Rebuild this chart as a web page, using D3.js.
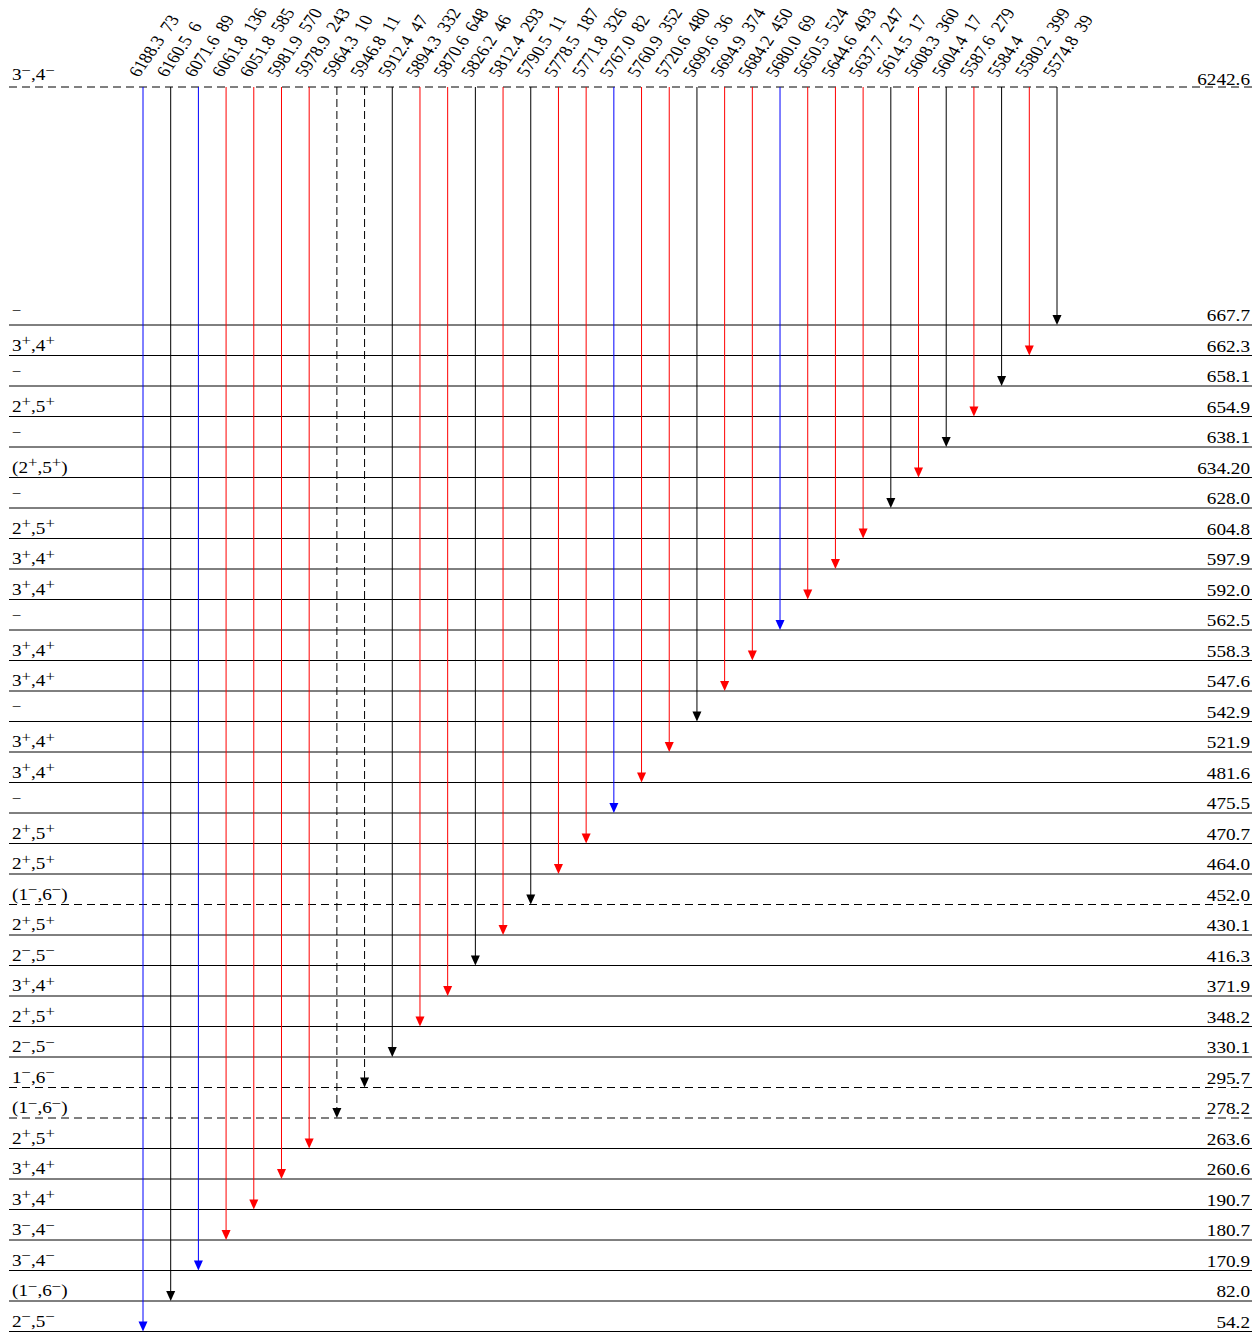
<!DOCTYPE html>
<html>
<head>
<meta charset="utf-8">
<script src="https://cdn.jsdelivr.net/npm/d3@7"></script>
<style>
  body { margin: 0; background: #fff; }
  text { font-family: "Liberation Serif", "DejaVu Serif", serif; font-size: 16px; fill: #000; }
  tspan.sup { font-size: 14px; }
</style>
</head>
<body>
<div id="chart"></div>
<script>
// level energies (keV), lowest list from top to bottom
const levelEnergies = ['667.7', '662.3', '658.1', '654.9', '638.1', '634.20', '628.0', '604.8', '597.9', '592.0',
  '562.5', '558.3', '547.6', '542.9', '521.9', '481.6', '475.5', '470.7', '464.0', '452.0',
  '430.1', '416.3', '371.9', '348.2', '330.1', '295.7', '278.2', '263.6', '260.6', '190.7',
  '180.7', '170.9', '82.0', '54.2'];
// spin-parity labels, + / − are drawn as superscripts
const levelSpins = ['−', '3+,4+', '−', '2+,5+', '−', '(2+,5+)', '−', '2+,5+', '3+,4+', '3+,4+',
  '−', '3+,4+', '3+,4+', '−', '3+,4+', '3+,4+', '−', '2+,5+', '2+,5+', '(1−,6−)',
  '2+,5+', '2−,5−', '3+,4+', '2+,5+', '2−,5−', '1−,6−', '(1−,6−)', '2+,5+', '3+,4+', '3+,4+',
  '3−,4−', '3−,4−', '(1−,6−)', '2−,5−'];
const dashedLevels = ['452.0', '295.7', '278.2'];

const topLevel = { e: '6242.6', spin: '3−,4−' };

// gamma transitions from the capture state
const gammaEnergies = ['6188.3', '6160.5', '6071.6', '6061.8', '6051.8', '5981.9', '5978.9', '5964.3', '5946.8', '5912.4',
  '5894.3', '5870.6', '5826.2', '5812.4', '5790.5', '5778.5', '5771.8', '5767.0', '5760.9', '5720.6',
  '5699.6', '5694.9', '5684.2', '5680.0', '5650.5', '5644.6', '5637.7', '5614.5', '5608.3', '5604.4',
  '5587.6', '5584.4', '5580.2', '5574.8'];
const gammaIntensities = ['73', '6', '89', '136', '585', '570', '243', '10', '11', '47',
  '332', '648', '46', '293', '11', '187', '326', '82', '352', '480',
  '36', '374', '450', '69', '524', '493', '247', '17', '360', '17',
  '279', '', '399', '39'];
const gammaFinal = ['54.2', '82.0', '170.9', '180.7', '190.7', '260.6', '263.6', '278.2', '295.7', '330.1',
  '348.2', '371.9', '416.3', '430.1', '452.0', '464.0', '470.7', '475.5', '481.6', '521.9',
  '542.9', '547.6', '558.3', '562.5', '592.0', '597.9', '604.8', '628.0', '634.20', '638.1',
  '654.9', '658.1', '662.3', '667.7'];
const dashedGammas = ['5964.3', '5946.8'];

const W = 1258, H = 1332;
const sx = 1.2; // the figure is stretched horizontally
const xLeft = 9, xRight = 1252;
const yTop = 87;

const svg = d3.select('#chart').append('svg')
  .attr('width', W).attr('height', H);

const y = d3.scalePoint().domain(levelEnergies).range([325, 1331.5]);
const x = d3.scalePoint().domain(gammaEnergies).range([143, 1057]);
const colour = d3.scaleThreshold().domain([50, 100]).range(['#000', '#00f', '#f00']);

function spinText(sel, label) {
  let buf = '';
  const flush = () => { if (buf) { sel.append('tspan').text(buf); buf = ''; } };
  for (const ch of label) {
    if (ch === '+' || ch === '−') {
      flush();
      sel.append('tspan').attr('class', 'sup').attr('baseline-shift', '42%').text(ch);
    } else buf += ch;
  }
  flush();
}

// top (capture) level
svg.append('line')
  .attr('x1', xLeft).attr('x2', xRight).attr('y1', yTop).attr('y2', yTop)
  .attr('stroke', '#000').attr('stroke-dasharray', '8,5');
svg.append('text').attr('transform', `translate(12,${yTop - 7}) scale(${sx},1)`)
  .call(spinText, topLevel.spin);
svg.append('text').attr('transform', `translate(1250,${yTop - 2}) scale(${sx},1)`)
  .attr('text-anchor', 'end').text(topLevel.e);

// levels
const lv = svg.append('g').attr('class', 'levels')
  .selectAll('g').data(levelEnergies).enter().append('g');
lv.append('line')
  .attr('x1', xLeft).attr('x2', xRight)
  .attr('y1', d => y(d)).attr('y2', d => y(d))
  .attr('stroke', '#000')
  .attr('stroke-dasharray', d => dashedLevels.includes(d) ? '8,5' : null);
lv.append('text')
  .attr('transform', d => `translate(12,${y(d) - 5}) scale(${sx},1)`)
  .each(function(d, i) { d3.select(this).call(spinText, levelSpins[i]); });
lv.append('text')
  .attr('transform', d => `translate(1250,${y(d) - 4}) scale(${sx},1)`)
  .attr('text-anchor', 'end')
  .text(d => d);

// transitions
const gm = svg.append('g').attr('class', 'gammas')
  .selectAll('g').data(gammaEnergies).enter().append('g');
gm.append('line')
  .attr('x1', d => x(d)).attr('x2', d => x(d))
  .attr('y1', yTop)
  .attr('y2', (d, i) => y(gammaFinal[i]) - 9)
  .attr('stroke', (d, i) => colour(+gammaIntensities[i] || 0))
  .attr('stroke-dasharray', d => dashedGammas.includes(d) ? '8,4' : null);
gm.append('path')
  .attr('d', (d, i) => {
    const xx = x(d), yy = y(gammaFinal[i]);
    return `M${xx},${yy}L${xx - 4.5},${yy - 10}L${xx + 4.5},${yy - 10}Z`;
  })
  .attr('fill', (d, i) => colour(+gammaIntensities[i] || 0));
const lab = gm.append('text')
  .attr('transform', d => `translate(${x(d) - 4},${yTop - 9}) scale(${sx},1) rotate(-60)`);
lab.append('tspan').text(d => d);
lab.append('tspan').attr('dx', 8).text((d, i) => gammaIntensities[i]);
</script>
</body>
</html>
